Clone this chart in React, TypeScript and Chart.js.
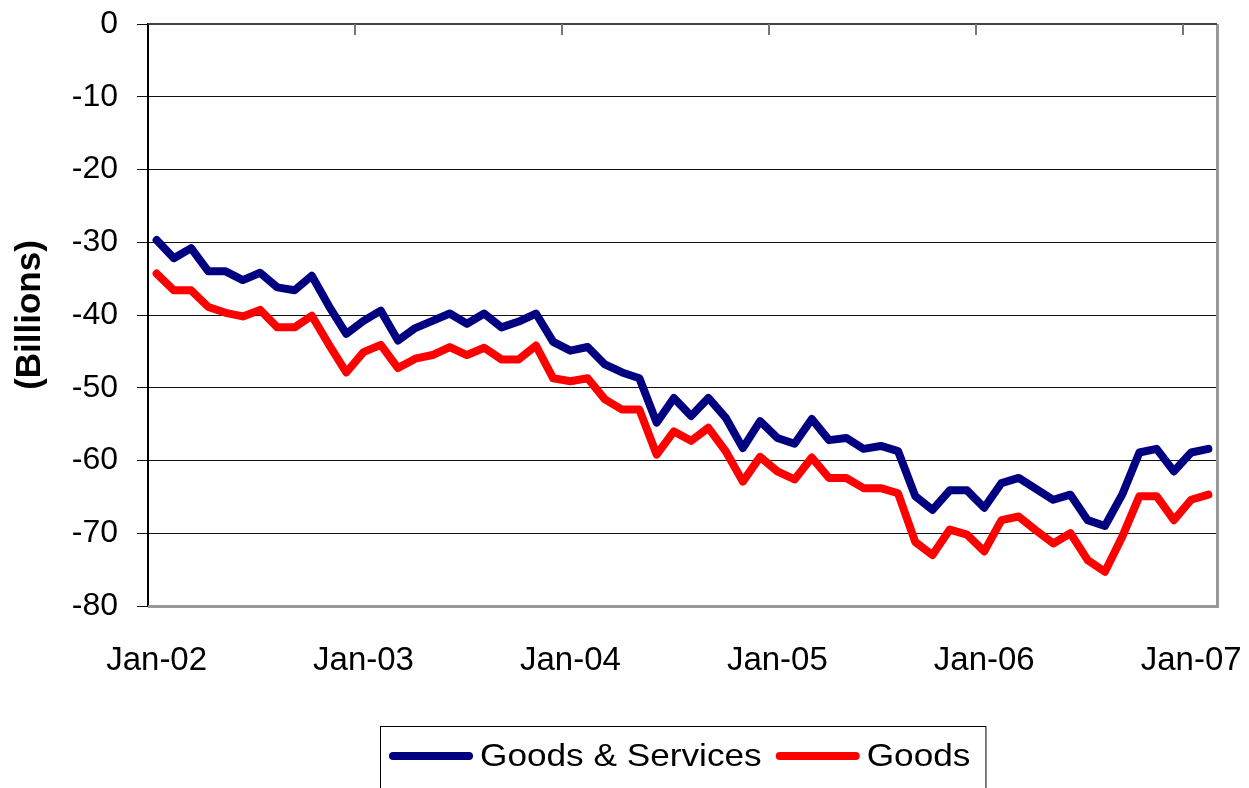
import React, { useEffect, useRef } from 'react';
import { Chart, registerables } from 'chart.js';

Chart.register(...registerables);

const FONT = 'Arial, "Liberation Sans", sans-serif';

const MONTHS = ['Jan', 'Feb', 'Mar', 'Apr', 'May', 'Jun', 'Jul', 'Aug', 'Sep', 'Oct', 'Nov', 'Dec'];
const YEARS = ['02', '03', '04', '05', '06', '07'];
const POINT_COUNT = 62; // Jan-02 .. Feb-07
const categories: string[] = YEARS.flatMap((y) => MONTHS.map((m) => `${m}-${y}`)).slice(0, POINT_COUNT);

const goodsServices = [
  -29.7, -32.2, -30.8, -34.0, -34.0, -35.2, -34.2, -36.2, -36.6, -34.6, -38.8, -42.6,
  -40.8, -39.4, -43.5, -41.8, -40.8, -39.8, -41.2, -39.8, -41.7, -40.9, -39.8, -43.7,
  -44.9, -44.4, -46.8, -47.9, -48.7, -54.8, -51.4, -53.9, -51.4, -54.1, -58.3, -54.6,
  -56.9, -57.7, -54.3, -57.2, -56.9, -58.4, -58.0, -58.7, -64.9, -66.8, -64.1, -64.1,
  -66.5, -63.1, -62.4, -63.9, -65.4, -64.7, -68.2, -69.0, -64.7, -58.9, -58.4, -61.5,
  -58.9, -58.4,
];

const goods = [
  -34.3, -36.6, -36.6, -38.9, -39.7, -40.2, -39.3, -41.7, -41.7, -40.1, -44.1, -47.9,
  -45.1, -44.1, -47.3, -46.0, -45.5, -44.4, -45.5, -44.5, -46.1, -46.1, -44.2, -48.7,
  -49.1, -48.7, -51.6, -53.0, -53.0, -59.2, -56.0, -57.3, -55.5, -58.7, -62.9, -59.5,
  -61.5, -62.6, -59.6, -62.4, -62.4, -63.8, -63.8, -64.5, -71.2, -73.0, -69.5, -70.2,
  -72.5, -68.2, -67.7, -69.6, -71.4, -70.0, -73.7, -75.3, -70.5, -64.9, -64.9, -68.2,
  -65.4, -64.7,
];

const seriesLabels = ['Goods & Services', 'Goods'];
const seriesColors = ['#000080', '#FF0000'];
const Y_MIN = -80;
const Y_MAX = 0;
const Y_STEP = 10;
const LABEL_EVERY = 12;
const yTitle = '(Billions)';

const framePlugin = {
  id: 'frame',
  afterDatasetsDraw(chart: any) {
    const { ctx, chartArea: ca } = chart;
    const xs = chart.scales.x;
    ctx.save();
    ctx.strokeStyle = '#999999';
    ctx.lineWidth = 3;
    ctx.beginPath();
    ctx.moveTo(ca.left, ca.bottom + 0.5);
    ctx.lineTo(ca.right + 0.5, ca.bottom + 0.5);
    ctx.lineTo(ca.right + 0.5, ca.top);
    ctx.stroke();
    ctx.strokeStyle = '#444444';
    ctx.lineWidth = 2;
    ctx.beginPath();
    ctx.moveTo(ca.left, ca.top);
    ctx.lineTo(ca.right, ca.top);
    ctx.stroke();
    // small category tick marks hanging from the top axis
    ctx.strokeStyle = '#777777';
    ctx.lineWidth = 2;
    for (let i = LABEL_EVERY; i < categories.length; i += LABEL_EVERY) {
      const x = Math.round((xs.getPixelForValue(i) + xs.getPixelForValue(i - 1)) / 2);
      ctx.beginPath();
      ctx.moveTo(x, ca.top);
      ctx.lineTo(x, ca.top + 11);
      ctx.stroke();
    }
    ctx.restore();
  },
};

const TEXT_STRETCH = 1.1;

const legendPlugin = {
  id: 'boxLegend',
  afterDraw(chart: any) {
    const { ctx, chartArea: ca } = chart;
    ctx.save();
    ctx.font = `32px ${FONT}`;
    const items = chart.data.datasets.map((ds: any) => ({
      label: ds.label as string,
      color: ds.borderColor as string,
      w: ctx.measureText(ds.label).width * TEXT_STRETCH,
    }));
    const lineW = 84;
    const gapAfterLine = 7;
    const gapBetween = 14;
    const padL = 9;
    const padR = 15;
    let total = padL + padR;
    items.forEach((it: any, i: number) => {
      total += lineW + gapAfterLine + it.w + (i > 0 ? gapBetween : 0);
    });
    const cx = (ca.left + ca.right) / 2;
    const left = Math.round(cx - total / 2);
    const top = ca.bottom + 120;
    const midY = ca.bottom + 150;
    ctx.strokeStyle = '#000000';
    ctx.lineWidth = 1;
    ctx.strokeRect(left + 0.5, top + 0.5, total, 90);
    let x = left + padL;
    items.forEach((it: any, i: number) => {
      if (i > 0) x += gapBetween;
      ctx.beginPath();
      ctx.strokeStyle = it.color;
      ctx.lineWidth = 8;
      ctx.lineCap = 'round';
      ctx.moveTo(x + 4, midY);
      ctx.lineTo(x + lineW - 4, midY);
      ctx.stroke();
      x += lineW + gapAfterLine;
      ctx.save();
      ctx.translate(x, midY + 1);
      ctx.scale(TEXT_STRETCH, 1);
      ctx.fillStyle = '#000000';
      ctx.textBaseline = 'middle';
      ctx.textAlign = 'left';
      ctx.fillText(it.label, 0, 0);
      ctx.restore();
      x += it.w;
    });
    ctx.restore();
  },
};

export default function App() {
  const canvasRef = useRef<HTMLCanvasElement | null>(null);

  useEffect(() => {
    document.body.style.margin = '0';
    const canvas = canvasRef.current;
    if (!canvas) return;
    const chart = new Chart(canvas, {
      type: 'line',
      data: {
        labels: categories,
        datasets: [
          {
            label: seriesLabels[0],
            data: goodsServices,
            borderColor: seriesColors[0],
            backgroundColor: seriesColors[0],
            borderWidth: 8,
            pointRadius: 0,
            tension: 0,
            borderJoinStyle: 'round',
            borderCapStyle: 'round',
          },
          {
            label: seriesLabels[1],
            data: goods,
            borderColor: seriesColors[1],
            backgroundColor: seriesColors[1],
            borderWidth: 8,
            pointRadius: 0,
            tension: 0,
            borderJoinStyle: 'round',
            borderCapStyle: 'round',
          },
        ],
      },
      options: {
        responsive: false,
        animation: false,
        layout: { padding: { left: 0, right: 32, top: 24, bottom: 0 } },
        plugins: {
          legend: { display: false },
          tooltip: { enabled: false },
        },
        scales: {
          x: {
            type: 'category',
            offset: true,
            grid: { display: false, drawTicks: false },
            border: { display: false },
            ticks: {
              autoSkip: false,
              maxRotation: 0,
              minRotation: 0,
              padding: 35,
              color: '#000000',
              font: { family: FONT, size: 33 },
              callback: (_v: any, i: number) => (i % LABEL_EVERY === 0 ? categories[i] : ''),
            },
            afterFit: (scale: any) => {
              scale.height = 182;
              scale.paddingLeft = 0;
              scale.paddingRight = 0;
            },
          },
          y: {
            min: Y_MIN,
            max: Y_MAX,
            ticks: {
              stepSize: Y_STEP,
              padding: 19,
              color: '#000000',
              font: { family: FONT, size: 32 },
            },
            grid: {
              color: '#111111',
              lineWidth: 1,
              tickLength: 11,
              tickColor: '#111111',
            },
            border: { display: true, color: '#000000', width: 2 },
            title: {
              display: true,
              text: yTitle,
              color: '#000000',
              font: { family: FONT, size: 35, weight: 'bold' },
              padding: { top: 9, bottom: 0 },
            },
            afterFit: (scale: any) => {
              scale.width = 148;
              scale.paddingTop = 0;
              scale.paddingBottom = 0;
            },
          },
        },
      },
      plugins: [framePlugin, legendPlugin],
    });
    return () => chart.destroy();
  }, []);

  return (
    <div style={{ width: 1249, height: 788, background: '#ffffff' }}>
      <canvas ref={canvasRef} width={1249} height={788} style={{ display: 'block' }} />
    </div>
  );
}
